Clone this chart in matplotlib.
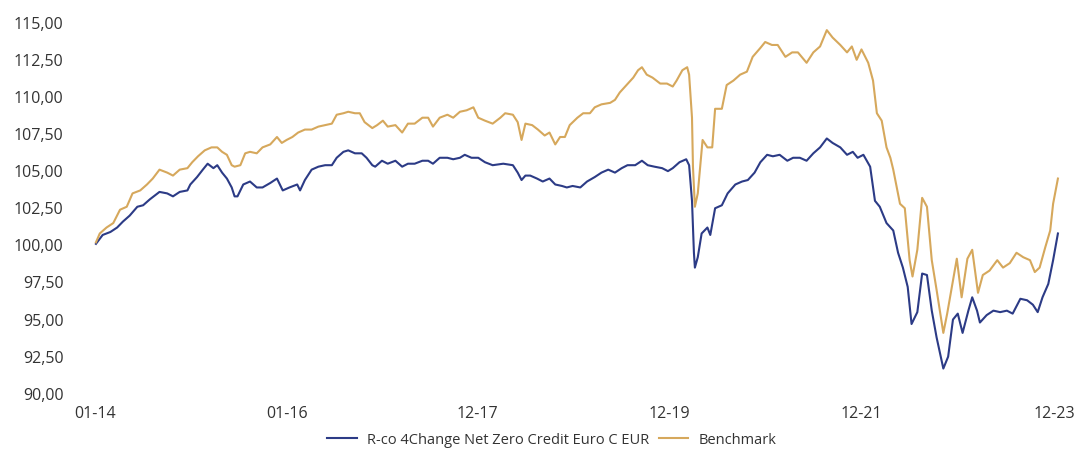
import matplotlib
matplotlib.use("Agg")
import matplotlib.pyplot as plt
from matplotlib.ticker import FuncFormatter

# Données (dates en années décimales, valeurs base 100)

fund_t = [
    2014.01, 2014.08, 2014.16, 2014.23, 2014.29, 2014.36, 2014.44, 2014.50, 2014.57, 2014.67,
    2014.75, 2014.81, 2014.88, 2014.96, 2014.99, 2015.06, 2015.12, 2015.17, 2015.23, 2015.27,
    2015.32, 2015.37, 2015.42, 2015.45, 2015.48, 2015.54, 2015.61, 2015.68, 2015.74, 2015.82,
    2015.89, 2015.95, 2016.02, 2016.10, 2016.13, 2016.18, 2016.25, 2016.32, 2016.39, 2016.46,
    2016.51, 2016.58, 2016.63, 2016.70, 2016.77, 2016.82, 2016.88, 2016.91, 2016.98, 2017.04,
    2017.12, 2017.19, 2017.25, 2017.32, 2017.40, 2017.46, 2017.51, 2017.58, 2017.66, 2017.72,
    2017.79, 2017.84, 2017.91, 2017.98, 2018.05, 2018.13, 2018.24, 2018.34, 2018.39, 2018.43,
    2018.47, 2018.52, 2018.59, 2018.65, 2018.72, 2018.78, 2018.85, 2018.90, 2018.96, 2019.04,
    2019.11, 2019.19, 2019.26, 2019.33, 2019.40, 2019.47, 2019.53, 2019.61, 2019.68, 2019.74,
    2019.81, 2019.89, 2019.95, 2020.00, 2020.07, 2020.14, 2020.17, 2020.20, 2020.22, 2020.23,
    2020.26, 2020.30, 2020.36, 2020.39, 2020.44, 2020.51, 2020.57, 2020.65, 2020.72, 2020.78,
    2020.85, 2020.91, 2020.98, 2021.04, 2021.11, 2021.19, 2021.25, 2021.32, 2021.39, 2021.46,
    2021.53, 2021.60, 2021.66, 2021.74, 2021.81, 2021.87, 2021.92, 2021.98, 2022.05, 2022.10,
    2022.15, 2022.22, 2022.29, 2022.34, 2022.39, 2022.44, 2022.48, 2022.54, 2022.59, 2022.64,
    2022.69, 2022.74, 2022.81, 2022.86, 2022.91, 2022.96, 2023.01, 2023.07, 2023.11, 2023.16,
    2023.19, 2023.26, 2023.33, 2023.40, 2023.47, 2023.53, 2023.61, 2023.68, 2023.74, 2023.79,
    2023.84, 2023.90, 2023.95, 2024.00,
]
fund_values = [
    100.1, 100.7, 100.9, 101.2, 101.6, 102.0, 102.6, 102.7, 103.1, 103.6,
    103.5, 103.3, 103.6, 103.7, 104.1, 104.6, 105.1, 105.5, 105.2, 105.4,
    104.9, 104.5, 103.9, 103.3, 103.3, 104.1, 104.3, 103.9, 103.9, 104.2,
    104.5, 103.7, 103.9, 104.1, 103.7, 104.4, 105.1, 105.3, 105.4, 105.4,
    105.9, 106.3, 106.4, 106.2, 106.2, 105.9, 105.4, 105.3, 105.7, 105.5,
    105.7, 105.3, 105.5, 105.5, 105.7, 105.7, 105.5, 105.9, 105.9, 105.8,
    105.9, 106.1, 105.9, 105.9, 105.6, 105.4, 105.5, 105.4, 104.9, 104.4,
    104.7, 104.7, 104.5, 104.3, 104.5, 104.1, 104.0, 103.9, 104.0, 103.9,
    104.3, 104.6, 104.9, 105.1, 104.9, 105.2, 105.4, 105.4, 105.7, 105.4,
    105.3, 105.2, 105.0, 105.2, 105.6, 105.8, 105.4, 103.0, 99.5, 98.5,
    99.2, 100.8, 101.2, 100.7, 102.5, 102.7, 103.5, 104.1, 104.3, 104.4,
    104.9, 105.6, 106.1, 106.0, 106.1, 105.7, 105.9, 105.9, 105.7, 106.2,
    106.6, 107.2, 106.9, 106.6, 106.1, 106.3, 105.9, 106.1, 105.3, 103.0,
    102.6, 101.5, 101.0, 99.5, 98.5, 97.2, 94.7, 95.5, 98.1, 98.0,
    95.6, 93.8, 91.7, 92.5, 95.0, 95.4, 94.1, 95.6, 96.5, 95.6,
    94.8, 95.3, 95.6, 95.5, 95.6, 95.4, 96.4, 96.3, 96.0, 95.5,
    96.5, 97.4, 99.0, 100.8,
]

bench_t = [
    2014.01, 2014.05, 2014.12, 2014.19, 2014.26, 2014.33, 2014.39, 2014.47, 2014.54, 2014.60,
    2014.67, 2014.75, 2014.81, 2014.88, 2014.96, 2015.01, 2015.07, 2015.14, 2015.21, 2015.27,
    2015.32, 2015.37, 2015.42, 2015.45, 2015.51, 2015.56, 2015.61, 2015.68, 2015.74, 2015.82,
    2015.89, 2015.94, 2015.99, 2016.05, 2016.11, 2016.18, 2016.25, 2016.32, 2016.39, 2016.46,
    2016.51, 2016.58, 2016.63, 2016.70, 2016.75, 2016.80, 2016.88, 2016.93, 2016.99, 2017.04,
    2017.12, 2017.19, 2017.25, 2017.32, 2017.40, 2017.46, 2017.51, 2017.58, 2017.66, 2017.72,
    2017.79, 2017.86, 2017.93, 2017.98, 2018.05, 2018.13, 2018.21, 2018.26, 2018.34, 2018.39,
    2018.43, 2018.47, 2018.54, 2018.60, 2018.67, 2018.72, 2018.78, 2018.83, 2018.88, 2018.93,
    2019.01, 2019.07, 2019.14, 2019.19, 2019.26, 2019.35, 2019.40, 2019.45, 2019.52, 2019.59,
    2019.64, 2019.68, 2019.73, 2019.79, 2019.87, 2019.94, 2020.00, 2020.04, 2020.10, 2020.15,
    2020.17, 2020.20, 2020.21, 2020.23, 2020.26, 2020.31, 2020.36, 2020.41, 2020.44, 2020.51,
    2020.56, 2020.63, 2020.70, 2020.77, 2020.83, 2020.91, 2020.96, 2021.03, 2021.09, 2021.17,
    2021.24, 2021.30, 2021.39, 2021.46, 2021.53, 2021.60, 2021.66, 2021.74, 2021.81, 2021.86,
    2021.91, 2021.96, 2022.03, 2022.08, 2022.12, 2022.17, 2022.22, 2022.26, 2022.29, 2022.36,
    2022.41, 2022.46, 2022.49, 2022.54, 2022.59, 2022.64, 2022.69, 2022.74, 2022.81, 2022.85,
    2022.88, 2022.95, 2023.00, 2023.06, 2023.11, 2023.17, 2023.22, 2023.29, 2023.37, 2023.43,
    2023.50, 2023.57, 2023.64, 2023.71, 2023.76, 2023.81, 2023.87, 2023.92, 2023.95, 2024.00,
]
bench_values = [
    100.2, 100.8, 101.2, 101.5, 102.4, 102.6, 103.5, 103.7, 104.1, 104.5,
    105.1, 104.9, 104.7, 105.1, 105.2, 105.6, 106.0, 106.4, 106.6, 106.6,
    106.3, 106.1, 105.4, 105.3, 105.4, 106.2, 106.3, 106.2, 106.6, 106.8,
    107.3, 106.9, 107.1, 107.3, 107.6, 107.8, 107.8, 108.0, 108.1, 108.2,
    108.8, 108.9, 109.0, 108.9, 108.9, 108.3, 107.9, 108.1, 108.4, 108.0,
    108.1, 107.6, 108.2, 108.2, 108.6, 108.6, 108.0, 108.6, 108.8, 108.6,
    109.0, 109.1, 109.3, 108.6, 108.4, 108.2, 108.6, 108.9, 108.8, 108.3,
    107.1, 108.2, 108.1, 107.8, 107.4, 107.6, 106.8, 107.3, 107.3, 108.1,
    108.6, 108.9, 108.9, 109.3, 109.5, 109.6, 109.8, 110.3, 110.8, 111.3,
    111.8, 112.0, 111.5, 111.3, 110.9, 110.9, 110.7, 111.1, 111.8, 112.0,
    111.5, 108.6, 105.3, 102.6, 103.5, 107.1, 106.6, 106.6, 109.2, 109.2,
    110.8, 111.1, 111.5, 111.7, 112.7, 113.3, 113.7, 113.5, 113.5, 112.7,
    113.0, 113.0, 112.3, 113.0, 113.4, 114.5, 114.0, 113.5, 113.0, 113.4,
    112.5, 113.2, 112.3, 111.1, 108.9, 108.4, 106.6, 105.9, 105.1, 102.8,
    102.5, 99.0, 97.9, 99.7, 103.2, 102.6, 99.0, 97.0, 94.1, 95.4,
    96.5, 99.1, 96.5, 99.1, 99.7, 96.8, 98.0, 98.3, 99.0, 98.5,
    98.8, 99.5, 99.2, 99.0, 98.2, 98.5, 99.9, 101.0, 102.8, 104.5,
]

tick_pos = [2014.0, 2016.0, 2017.97, 2019.97, 2021.96, 2023.96]
tick_labels = ["01-14", "01-16", "12-17", "12-19", "12-21", "12-23"]
y_ticks = [90, 92.5, 95, 97.5, 100, 102.5, 105, 107.5, 110, 112.5, 115]

FUND_NAME = "R-co 4Change Net Zero Credit Euro C EUR"
BENCH_NAME = "Benchmark"
BLUE = "#2c3b86"
GOLD = "#d6a85c"
TEXT = "#333333"

plt.rcParams["font.family"] = ["Open Sans", "DejaVu Sans"]

fig = plt.figure(figsize=(10.8, 4.5), dpi=100)
ax = fig.add_axes([0.0833, 0.1111, 0.9074, 0.8556])

ax.plot(fund_t, fund_values, color=BLUE, linewidth=1.5, label=FUND_NAME)
ax.plot(bench_t, bench_values, color=GOLD, linewidth=1.5, label=BENCH_NAME)

ax.set_xlim(2013.948, 2024.125)
ax.set_ylim(89.58, 115.52)
ax.set_yticks(y_ticks)
ax.yaxis.set_major_formatter(FuncFormatter(lambda v, p: f"{v:.2f}".replace(".", ",")))
ax.set_xticks(tick_pos)
ax.set_xticklabels(tick_labels)

for s in ax.spines.values():
    s.set_visible(False)
ax.tick_params(axis="y", length=0, pad=19, labelsize=11.5, labelcolor=TEXT)
ax.tick_params(axis="x", length=0, pad=4, labelsize=11.5, labelcolor=TEXT)

fig.legend(loc="center", bbox_to_anchor=(0.511, 0.022), ncol=2, frameon=False,
           fontsize=10.5, handlelength=2.0, handletextpad=0.7, columnspacing=0.7,
           labelcolor=TEXT)

fig.savefig("out.png", dpi=100)
plt.close(fig)
